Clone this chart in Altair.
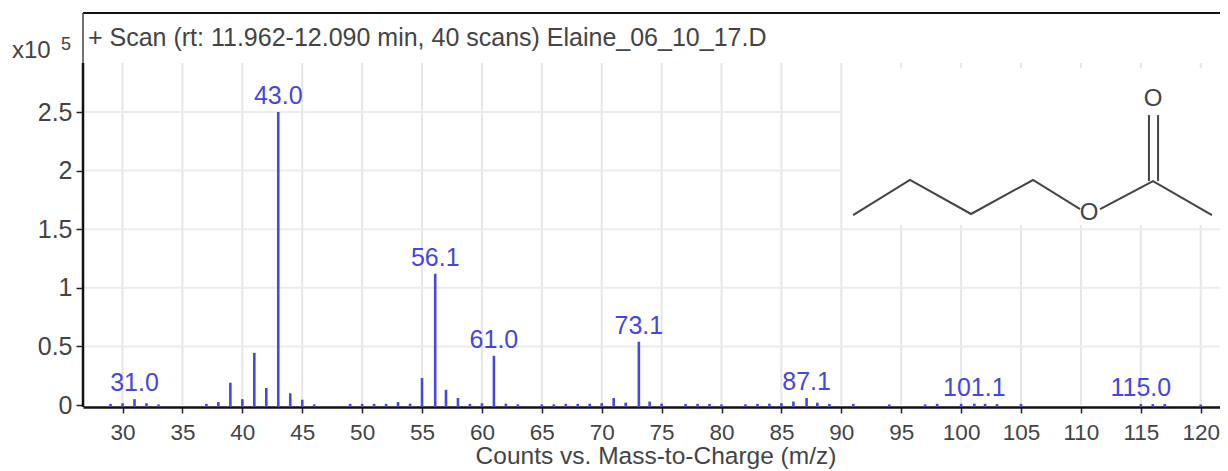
import altair as alt
import pandas as pd

FONT = "Liberation Sans"
X_DOMAIN = [26.70, 121.61]
Y_DOMAIN = [-0.017, 3.345]

# m/z peaks and abundance (x10^5)
mz = [29, 30, 31, 32, 33, 37, 38, 39, 40, 41, 42, 43, 44, 45, 46, 49, 50, 51, 52, 53, 54,
      55, 56.1, 57, 58, 59, 60, 61, 62, 63, 65, 66, 67, 68, 69, 70, 71, 72, 73.1, 74, 75,
      77, 78, 79, 80, 82, 83, 84, 85, 86, 87.1, 88, 89, 91, 94, 97, 98, 100, 101.1, 102,
      103, 105, 115, 116, 117, 120]
abundance = [0.01, 0.015, 0.05, 0.015, 0.005, 0.01, 0.025, 0.19, 0.05, 0.445, 0.145, 2.5,
             0.10, 0.045, 0.005, 0.01, 0.01, 0.01, 0.01, 0.025, 0.012,
             0.23, 1.12, 0.13, 0.06, 0.01, 0.015, 0.42, 0.012, 0.006, 0.005, 0.006, 0.01,
             0.01, 0.012, 0.016, 0.06, 0.02, 0.54, 0.03, 0.012,
             0.008, 0.01, 0.01, 0.005, 0.006, 0.01, 0.012, 0.016, 0.03, 0.06, 0.02, 0.01,
             0.01, 0.005, 0.005, 0.01, 0.01, 0.012, 0.01, 0.008, 0.01, 0.008, 0.008, 0.008, 0.004]

label_x = [31, 43, 56.1, 61, 73.1, 87.1, 101.1, 115]
label_y = [0.05, 2.5, 1.12, 0.42, 0.54, 0.06, 0.012, 0.008]
label_text = ["31.0", "43.0", "56.1", "61.0", "73.1", "87.1", "101.1", "115.0"]

x_ticks = [30, 35, 40, 45, 50, 55, 60, 65, 70, 75, 80, 85, 90, 95, 100, 105, 110, 115, 120]
y_ticks = [0, 0.5, 1, 1.5, 2, 2.5]

# structure of butyl acetate, in the chart's data units
chain_x = [90.98, 95.73, 100.83, 106.0, 109.93]
chain_y = [1.621, 1.920, 1.630, 1.920, 1.672]
acetyl_x = [111.6, 116.02, 120.94]
acetyl_y = [1.672, 1.911, 1.621]
bond_x = [115.68, 116.44]
bond_y1 = [2.474, 2.474]
bond_y2 = [1.911, 1.911]
atom_x = [110.68, 116.02]
atom_y = [1.638, 2.611]
atom_text = ["O", "O"]

GRID_TOP = 2.918
BOX = dict(x1=90.14, x2=X_DOMAIN[1], y1=1.536, y2=2.875)

xs = alt.Scale(domain=X_DOMAIN, nice=False, zero=False)
ys = alt.Scale(domain=Y_DOMAIN, nice=False, zero=False)


def X(f="x"):
    return alt.X(f"{f}:Q", scale=xs, title=None)


def Y(f="y"):
    return alt.Y(f"{f}:Q", scale=ys, title=None)


# axes
axes = alt.Chart(pd.DataFrame({"x": [30], "y": [0]})).mark_point(opacity=0).encode(
    x=alt.X("x:Q", scale=xs, title=None,
            axis=alt.Axis(values=x_ticks, grid=False, domain=True, domainColor="#111111",
                          domainWidth=2.5, tickColor="#222222", tickWidth=1.5, tickSize=6,
                          labelFont=FONT, labelFontSize=22.5, labelColor="#444444",
                          labelPadding=8, labelFlush=False, labelOverlap=False)),
    y=alt.Y("y:Q", scale=ys, title=None,
            axis=alt.Axis(values=y_ticks, grid=False, domain=False, format=".1~f",
                          tickColor="#222222", tickWidth=1.5, tickSize=7,
                          labelFont=FONT, labelFontSize=25, labelColor="#444444",
                          labelPadding=4, labelOverlap=False)),
)

v_grid = alt.Chart(pd.DataFrame({"x": x_ticks, "y": [GRID_TOP] * len(x_ticks),
                                 "y2": [0] * len(x_ticks)})).mark_rule(
    color="#e6e6e6", strokeWidth=2).encode(x=X(), y=Y(), y2="y2:Q")
h_grid = alt.Chart(pd.DataFrame({"y": y_ticks[1:]})).mark_rule(
    color="#ececec", strokeWidth=2).encode(y=Y())

box = alt.Chart(pd.DataFrame([BOX])).mark_rect(color="white").encode(
    x=X("x1"), x2="x2:Q", y=Y("y1"), y2="y2:Q")

stems = alt.Chart(pd.DataFrame({"x": mz, "y": abundance,
                                "y0": [Y_DOMAIN[0]] * len(mz)})).mark_rule(
    color="#4848e0", strokeWidth=2.6).encode(x=X(), y=Y(), y2="y0:Q")

labels = alt.Chart(pd.DataFrame({"x": label_x, "y": label_y, "t": label_text})).mark_text(
    font=FONT, fontSize=25, color="#4646e0", baseline="alphabetic", dy=-8).encode(
    x=X(), y=Y(), text="t:N")

frame_top = alt.Chart(pd.DataFrame({"y": [Y_DOMAIN[1]]})).mark_rule(
    color="#111111", strokeWidth=2).encode(y=Y())
frame_left_low = alt.Chart(pd.DataFrame({"x": [X_DOMAIN[0]], "y": [GRID_TOP],
                                         "y2": [Y_DOMAIN[0]]})).mark_rule(
    color="#111111", strokeWidth=2.5).encode(x=X(), y=Y(), y2="y2:Q")
frame_left_high = alt.Chart(pd.DataFrame({"x": [X_DOMAIN[0]], "y": [Y_DOMAIN[1]],
                                          "y2": [GRID_TOP]})).mark_rule(
    color="#444444", strokeWidth=1.5).encode(x=X(), y=Y(), y2="y2:Q")

MOL = dict(color="#444444", strokeWidth=2)
chain = alt.Chart(pd.DataFrame({"x": chain_x, "y": chain_y, "o": range(len(chain_x))})).mark_line(**MOL).encode(
    x=X(), y=Y(), order="o:Q")
acetyl = alt.Chart(pd.DataFrame({"x": acetyl_x, "y": acetyl_y, "o": range(len(acetyl_x))})).mark_line(**MOL).encode(
    x=X(), y=Y(), order="o:Q")
bond = alt.Chart(pd.DataFrame({"x": bond_x, "y": bond_y1, "y2": bond_y2})).mark_rule(**MOL).encode(
    x=X(), y=Y(), y2="y2:Q")
atoms = alt.Chart(pd.DataFrame({"x": atom_x, "y": atom_y, "t": atom_text})).mark_text(
    font=FONT, fontSize=24, color="#444444", baseline="middle").encode(x=X(), y=Y(), text="t:N")

header = alt.Chart(pd.DataFrame({"t": ["+ Scan (rt: 11.962-12.090 min, 40 scans) Elaine_06_10_17.D"]})).mark_text(
    font=FONT, fontSize=25, color="#444444", align="left", baseline="alphabetic").encode(
    x=alt.value(5), y=alt.value(33), text="t:N")
x10 = alt.Chart(pd.DataFrame({"t": ["x10"]})).mark_text(
    font=FONT, fontSize=24, color="#444444", align="left", baseline="alphabetic").encode(
    x=alt.value(-71), y=alt.value(45), text="t:N")
exp = alt.Chart(pd.DataFrame({"t": ["5"]})).mark_text(
    font=FONT, fontSize=18, color="#444444", align="left", baseline="alphabetic").encode(
    x=alt.value(-22), y=alt.value(37), text="t:N")
x_title = alt.Chart(pd.DataFrame({"t": ["Counts vs. Mass-to-Charge (m/z)"]})).mark_text(
    font=FONT, fontSize=24.5, color="#444444", align="center", baseline="alphabetic").encode(
    x=alt.value(573), y=alt.value(451), text="t:N")

chart = alt.layer(
    axes, v_grid, h_grid, box, stems, labels, frame_top, frame_left_low, frame_left_high,
    chain, acetyl, bond, atoms, header, x10, exp, x_title,
).properties(
    width=1137, height=394,
    padding={"left": 75, "top": 5, "right": 0, "bottom": 62},
    autosize=alt.AutoSizeParams(type="none"),
).configure_view(stroke=None)

chart.save("out.html", embed_options={"renderer": "svg", "actions": False})
